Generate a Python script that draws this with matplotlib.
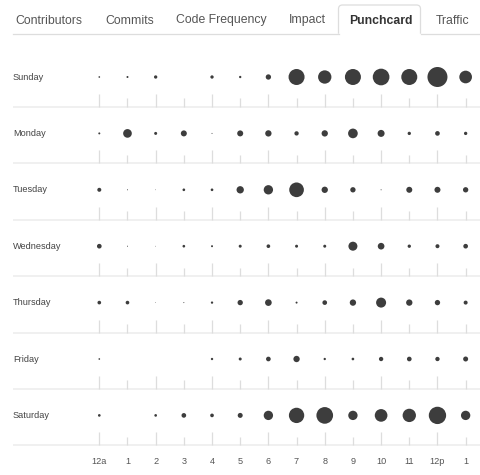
import matplotlib
matplotlib.use("Agg")
import matplotlib.pyplot as plt
from matplotlib.patches import PathPatch
from matplotlib.path import Path
import numpy as np

days = ["Sunday", "Monday", "Tuesday", "Wednesday", "Thursday", "Friday", "Saturday"]
hour_labels = ["12a", "1", "2", "3", "4", "5", "6", "7", "8", "9", "10", "11", "12p", "1"]
tabs = ["Contributors", "Commits", "Code Frequency", "Impact", "Punchcard", "Traffic"]
active_tab = "Punchcard"

# relative commit counts (dot diameter proportional to value)
sunday    = [5, 6, 10, 0, 10, 7, 16, 48, 40, 48, 50, 48, 60, 38]
monday    = [6, 26, 9, 18, 3, 18, 19, 13, 19, 29, 21, 10, 14, 10]
tuesday   = [12, 3, 2, 8, 8, 22, 28, 44, 19, 16, 3, 18, 18, 16]
wednesday = [14, 3, 2, 8, 6, 9, 11, 9, 9, 27, 20, 10, 12, 14]
thursday  = [11, 11, 2, 3, 7, 16, 20, 6, 14, 19, 30, 19, 16, 12]
friday    = [5, 0, 0, 0, 7, 9, 14, 19, 7, 8, 13, 14, 13, 15]
saturday  = [8, 0, 8, 14, 11, 15, 28, 46, 50, 28, 38, 40, 52, 28]
values = [sunday, monday, tuesday, wednesday, thursday, friday, saturday]

W, H = 480, 475
fig = plt.figure(figsize=(W / 100, H / 100), dpi=100)
fig.patch.set_facecolor("white")
ax = fig.add_axes([0, 0, 1, 1])
ax.set_axis_off()

x0, dx = 99.3, 28.18
y0, dy = 77.0, 56.4
ax.set_xlim(-x0 / dx, (W - x0) / dx)
ax.set_ylim((H - y0) / dy, -y0 / dy)

FONT = "Liberation Sans"

# separators and ticks
sep_off = 30.0 / dy
xl = (13 - x0) / dx
xr = (W - x0) / dx
for j, day in enumerate(days):
    ax.hlines(j + sep_off, xl, xr, color="#eeeeee", lw=1.2, zorder=1)
    for i in range(len(hour_labels)):
        top = j + (17.0 / dy if i % 2 == 0 else 21.3 / dy)
        ax.vlines(i, top, j + sep_off, color="#dddddd", lw=0.9, zorder=1)
    ax.text(xl, j, day, fontsize=6.6, family=FONT, color="#444444",
            ha="left", va="center")

# dots
vmax = max(max(v) for v in values)
max_d = 20.0  # px diameter of largest dot
xs, ys, ss = [], [], []
for j, row in enumerate(values):
    for i, v in enumerate(row):
        if v <= 0:
            continue
        d_px = v / vmax * max_d
        xs.append(i)
        ys.append(j)
        ss.append((d_px * 0.72) ** 2)
ax.scatter(xs, ys, s=ss, color="#3d3d3d", edgecolors="none", zorder=3)

# hour labels
for i, lab in enumerate(hour_labels):
    ax.text(i, 6 + 46.3 / dy, lab, fontsize=6.6, family=FONT, color="#555555",
            ha="center", va="center")

# tabs (figure pixel coordinates)
def fx(px):
    return px / W

def fy(py):
    return 1 - py / H

tab_x = [15, 105, 176, 289, 349, 436]
for name, tx in zip(tabs, tab_x):
    bold = name == active_tab
    fig.text(fx(tx), fy(20.5), name, fontsize=8.8, family=FONT,
             weight="bold" if bold else "normal",
             color="#333333" if bold else "#555555", ha="left", va="center")

line_y = 33.7
tab_l, tab_r, tab_t, rad = 338.5, 420.5, 5.0, 4.0
fig.add_artist(plt.Line2D([fx(13), fx(tab_l)], [fy(line_y), fy(line_y)],
                          transform=fig.transFigure, color="#dddddd", lw=0.9))
fig.add_artist(plt.Line2D([fx(tab_r), fx(W)], [fy(line_y), fy(line_y)],
                          transform=fig.transFigure, color="#dddddd", lw=0.9))
verts = [(tab_l, line_y), (tab_l, tab_t + rad), (tab_l, tab_t), (tab_l + rad, tab_t),
         (tab_r - rad, tab_t), (tab_r, tab_t), (tab_r, tab_t + rad), (tab_r, line_y)]
codes = [Path.MOVETO, Path.LINETO, Path.CURVE3, Path.CURVE3,
         Path.LINETO, Path.CURVE3, Path.CURVE3, Path.LINETO]
path = Path([(fx(a), fy(b)) for a, b in verts], codes)
fig.add_artist(PathPatch(path, transform=fig.transFigure, facecolor="none",
                         edgecolor="#dddddd", lw=0.9))

fig.savefig("out.png", dpi=100, facecolor="white")
